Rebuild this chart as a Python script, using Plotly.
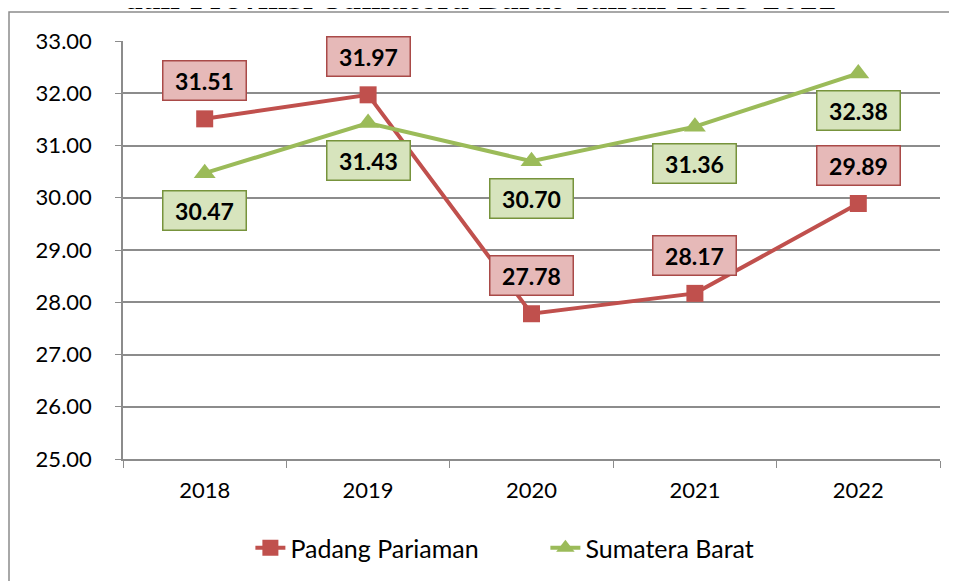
import plotly.graph_objects as go

years = ["2018", "2019", "2020", "2021", "2022"]
padang = [31.51, 31.97, 27.78, 28.17, 29.89]
sumbar = [30.47, 31.43, 30.70, 31.36, 32.38]
ytick_vals = [25, 26, 27, 28, 29, 30, 31, 32, 33]

RED = "#C0504D"
GREEN = "#9BBB59"
FONT = "Lato"

fig = go.Figure()
fig.add_trace(go.Scatter(x=years, y=padang, mode="lines+markers", name="Padang Pariaman",
                         line=dict(color=RED, width=4),
                         marker=dict(symbol="square", size=17, color=RED)))
fig.add_trace(go.Scatter(x=years, y=sumbar, mode="lines+markers", name="Sumatera Barat",
                         line=dict(color=GREEN, width=4),
                         marker=dict(symbol="triangle-up", size=19, color=GREEN)))

# category axes: annotations reference categories by index
for i, v in enumerate(padang):
    fig.add_annotation(x=i, y=v, text=f"<b>{v:.2f}</b>", showarrow=False, yshift=38,
                       font=dict(family=FONT, size=23, color="black"),
                       bgcolor="#E6B9B8", bordercolor="#A94A48", borderwidth=1.5,
                       borderpad=3, width=76, height=32)
for i, v in enumerate(sumbar):
    fig.add_annotation(x=i, y=v, text=f"<b>{v:.2f}</b>", showarrow=False, yshift=-37,
                       font=dict(family=FONT, size=23, color="black"),
                       bgcolor="#D7E4BD", bordercolor="#77933C", borderwidth=1.5,
                       borderpad=3, width=76, height=32)

# title, cut off at the top edge as in the reference
fig.add_annotation(xref="paper", yref="paper", x=0.437, y=(451 - 9.5) / 418, yanchor="bottom",
                   text="<b>dan Provinsi Sumatera Barat Tahun 2018-2022</b>", showarrow=False,
                   font=dict(family="DejaVu Serif", size=27, color="black"))

fig.add_shape(type="rect", xref="paper", yref="paper",
              x0=(1 - 115) / 817, x1=1.2, y0=-0.5, y1=(451 - 4) / 418,
              line=dict(color="#8C8C8C", width=1.5), layer="below")

fig.update_layout(
    width=957, height=581,
    margin=dict(l=115, r=25, t=33, b=130),
    paper_bgcolor="white", plot_bgcolor="white",
    font=dict(family=FONT, size=22, color="black"),
    showlegend=True,
    legend=dict(orientation="h", x=0.517, xanchor="center", y=-0.213, yanchor="middle",
                font=dict(family=FONT, size=25), entrywidth=250),
    xaxis=dict(type="category", range=[-0.5, 4.5], showgrid=False, showline=True,
               linecolor="#8C8C8C", linewidth=1.5,
               ticks="outside", tickson="boundaries", ticklen=7, tickcolor="#8C8C8C",
               ticklabelstandoff=11, tickangle=0),
    yaxis=dict(range=[25, 33], tickvals=ytick_vals, tickformat=".2f", showgrid=True,
               gridcolor="#8C8C8C", gridwidth=1.5, showline=True, linecolor="#8C8C8C", linewidth=1.5,
               ticks="outside", ticklen=6, tickcolor="#8C8C8C", ticklabelstandoff=19,
               zeroline=False),
)

fig.write_html("out.html")
